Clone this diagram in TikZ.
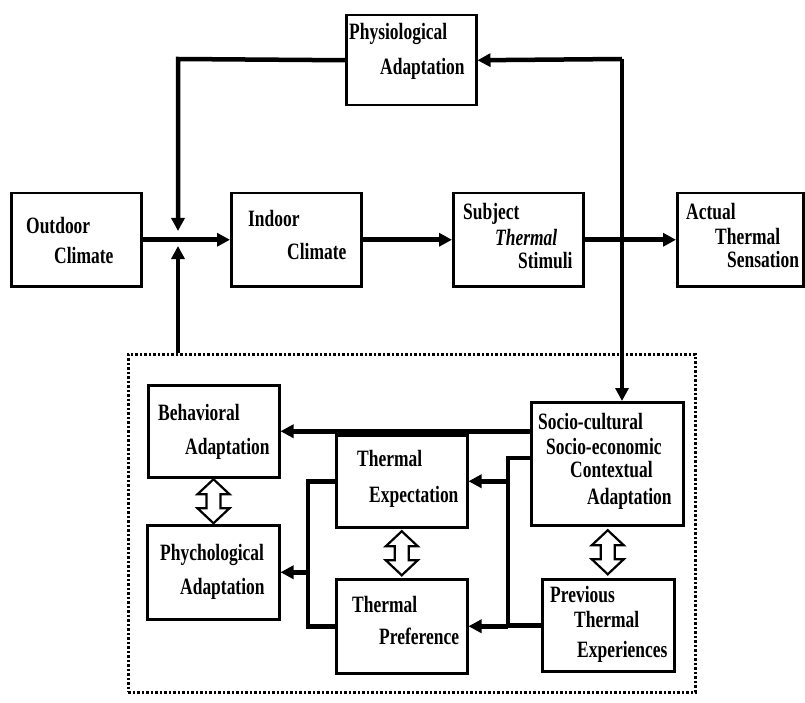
\documentclass[tikz,border=0pt]{standalone}
\usepackage{fontspec}
\setmainfont{Liberation Serif}
\usetikzlibrary{arrows.meta,calc}
\newcommand\tallt[1]{\scalebox{0.97}[1.3]{#1}}
\begin{document}
\begin{tikzpicture}[x=1pt,y=-1pt,
 box/.style={draw,line width=2.5pt,anchor=north west,inner sep=0pt},
 lbl/.style={anchor=base west,inner sep=0pt,font=\fontsize{18}{20}\selectfont\bfseries},
 conn/.style={line width=4.5pt,line join=miter},
 arr/.style={conn,-{Triangle[length=13pt,width=13pt]}},
 hollow/.style={line width=2.2pt,line join=miter,fill=white},
 dbl/.style={dash pattern=on 2.5pt off 2pt,line width=2.5pt}]
\useasboundingbox (0,0) rectangle (805,703);

% dashed frame
\node[draw,dbl,anchor=north west,inner sep=0pt,minimum width=567pt,minimum height=338pt] (dbox) at (127,353) {};

% boxes
\node[box,minimum width=130pt,minimum height=90pt] (phys) at (345,14) {};
\node[box,minimum width=130pt,minimum height=93pt] (out) at (10,192) {};
\node[box,minimum width=130pt,minimum height=93pt] (ind) at (230,192) {};
\node[box,minimum width=130pt,minimum height=93pt] (subj) at (452,192) {};
\node[box,minimum width=126pt,minimum height=93pt] (act) at (676,192) {};
\node[box,minimum width=131pt,minimum height=92pt] (beh) at (147,384) {};
\node[box,minimum width=131pt,minimum height=92pt] (exp) at (335,434) {};
\node[box,minimum width=152pt,minimum height=123pt] (socio) at (530,401) {};
\node[box,minimum width=132pt,minimum height=94pt] (phy) at (146,524) {};
\node[box,minimum width=131pt,minimum height=94pt] (pref) at (335,578) {};
\node[box,minimum width=132pt,minimum height=92pt] (prev) at (541,578) {};

% labels
\node[lbl] (l1) at (349,40) {\tallt{Physiological}};
\node[lbl] (l2) at (380,75) {\tallt{Adaptation}};
\node[lbl] (l3) at (26,234) {\tallt{Outdoor}};
\node[lbl] (l4) at (54,263) {\tallt{Climate}};
\node[lbl] (l5) at (248,227) {\tallt{Indoor}};
\node[lbl] (l6) at (287,259) {\tallt{Climate}};
\node[lbl] (l7) at (463,220) {\tallt{Subject}};
\node[lbl] (l8) at (495,245) {\tallt{\itshape Thermal}};
\node[lbl] (l9) at (518,268) {\tallt{Stimuli}};
\node[lbl] (l10) at (686,220) {\tallt{Actual}};
\node[lbl] (l11) at (715,244) {\tallt{Thermal}};
\node[lbl] (l12) at (727,267) {\tallt{Sensation}};
\node[lbl] (l13) at (158,420) {\tallt{Behavioral}};
\node[lbl] (l14) at (185,454) {\tallt{Adaptation}};
\node[lbl] (l15) at (357,466) {\tallt{Thermal}};
\node[lbl] (l16) at (369,502) {\tallt{Expectation}};
\node[lbl] (l17) at (538,429) {\tallt{Socio-cultural}};
\node[lbl] (l18) at (546,454) {\tallt{Socio-economic}};
\node[lbl] (l19) at (570,477) {\tallt{Contextual}};
\node[lbl] (l20) at (587,504) {\tallt{Adaptation}};
\node[lbl] (l21) at (160,560) {\tallt{Phychological}};
\node[lbl] (l22) at (180,594) {\tallt{Adaptation}};
\node[lbl] (l23) at (352,612) {\tallt{Thermal}};
\node[lbl] (l24) at (379,644) {\tallt{Preference}};
\node[lbl] (l25) at (550,602) {\tallt{Previous}};
\node[lbl] (l26) at (574,627) {\tallt{Thermal}};
\node[lbl] (l27) at (577,657) {\tallt{Experiences}};

% coordinates
\coordinate (lt) at (178,59);
\coordinate (rt) at (622,59);
\coordinate (jA) at (178,231);
\coordinate (jB) at (178,246);
\coordinate (rb) at (508,458);
\coordinate (lb) at (308,480);

% upper connectors
\draw[arr] (phys.west) -- (lt) -- (jA);
\draw[arr] (lt |- dbox.north) -- (jB);
\draw[arr] (out.east) -- (ind.west);
\draw[arr] (ind.east) -- (subj.west);
\draw[arr] (subj.east) -- (act.west);
\draw[arr] (rt) -- (phys.east);
\draw[arr] (rt) -- (rt |- socio.north);

% inner connectors
\draw[arr] (socio.west |- beh.east) -- (beh.east);
\draw[conn] (socio.west |- rb) -- (rb) -- (rb |- prev.west) -- (prev.west);
\draw[arr] (rb |- exp.east) -- (exp.east);
\draw[arr] (rb |- pref.east) -- (pref.east);
\draw[conn] (exp.west) -- (lb |- exp.west) -- (lb |- pref.west) -- (pref.west);
\draw[arr] (lb |- phy.east) -- (phy.east);

% hollow double arrows
\coordinate (m1) at ($(beh.south)!0.5!(phy.north)$);
\coordinate (m2) at ($(exp.south)!0.5!(pref.north)$);
\coordinate (m3) at ($(socio.south)!0.5!(prev.north)$);
\foreach \m in {m1,m2,m3}{
 \draw[hollow] ($(\m)+(0,-22)$) -- ++(16,15) -- ++(-9,0) -- ++(0,14) -- ++(9,0) -- ++(-16,15) -- ++(-16,-15) -- ++(9,0) -- ++(0,-14) -- ++(-9,0) -- cycle;
}
\end{tikzpicture}
\end{document}
